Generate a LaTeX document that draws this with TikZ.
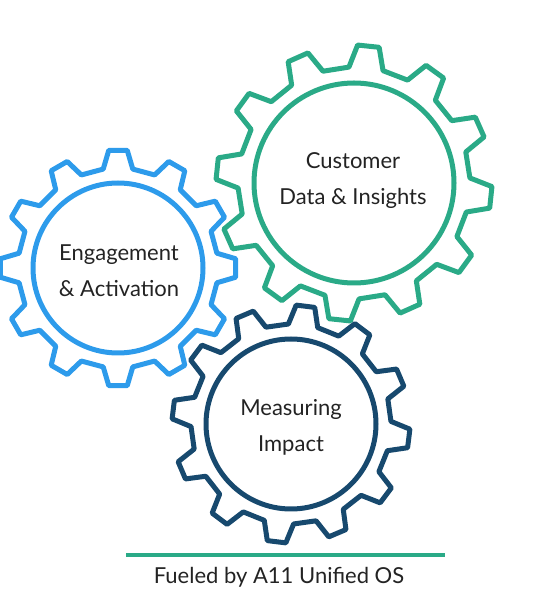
\documentclass[tikz,border=0pt]{standalone}
\usepackage{fontspec}
\setmainfont{Lato}
\definecolor{gearblue}{RGB}{45,155,235}
\definecolor{geargreen}{RGB}{42,170,135}
\definecolor{geardark}{RGB}{23,73,110}
\definecolor{textgray}{RGB}{35,35,35}
\tikzset{
    gearline/.style={line width=5pt, line join=round},
    gearlabel/.style={align=center, text=textgray, font=\fontsize{22}{36}\selectfont},
}
% #1 centre, #2 angle of first tooth, #3 valley radius, #4 tip radius, #5 hub radius, #6 colour
\newcommand{\drawgear}[6]{
    \begin{scope}[shift={#1}]
        \draw[gearline, #6] ({#2-8.5}:#3)
            \foreach \k in {0,...,11} {
                -- ({#2+30*\k-4.5}:#4) -- ({#2+30*\k+4.5}:#4)
                -- ({#2+30*\k+8.5}:#3) -- ({#2+30*\k+21.5}:#3)
            } -- cycle;
        \draw[gearline, #6] (0,0) circle (#5);
    \end{scope}
}
\begin{document}
\begin{tikzpicture}[x=1pt, y=1pt]
    \useasboundingbox (0,0) rectangle (540,613);

    % Engagement gear
    \drawgear{(118,345)}{90}{100pt}{118pt}{85pt}{gearblue}
    \node[gearlabel] (engage) at (119,342) {Engagement\\\& Activation};

    % Customer data gear
    \drawgear{(354,430)}{84}{116pt}{138pt}{100pt}{geargreen}
    \node[gearlabel] (customer) at (353,432) {Customer\\Data \& Insights};

    % Measuring gear
    \drawgear{(291,189)}{83}{100pt}{119pt}{85pt}{geardark}
    \node[gearlabel] (measure) at (291,186) {Measuring\\Impact};

    % Base line
    \draw[geargreen, line width=4pt] (126,58) -- (445,58);
    \node[gearlabel] (fuel) at (279,36) {Fueled by A11 Unified OS};
\end{tikzpicture}
\end{document}
